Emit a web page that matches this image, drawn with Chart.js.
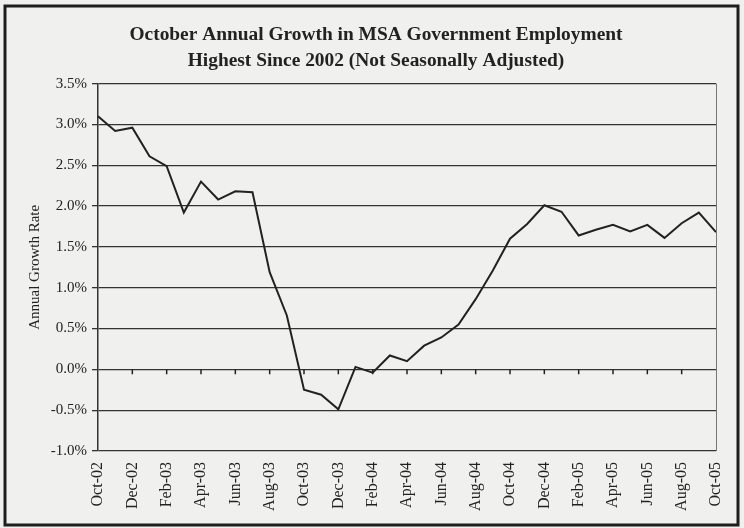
<!DOCTYPE html>
<html>
<head>
<meta charset="utf-8">
<script src="https://cdn.jsdelivr.net/npm/chart.js@4.4.1/dist/chart.umd.min.js"></script>
<style>
  html, body { margin: 0; padding: 0; background: #f0f0ee; }
  canvas { display: block; }
</style>
</head>
<body>
<canvas id="growthChart" width="744" height="528"></canvas>
<script>
// Months Oct-02 .. Oct-05
const months = [
    'Oct-02', 'Nov-02', 'Dec-02', 'Jan-03', 'Feb-03', 'Mar-03', 'Apr-03', 'May-03', 'Jun-03', 'Jul-03',
    'Aug-03', 'Sep-03', 'Oct-03', 'Nov-03', 'Dec-03', 'Jan-04', 'Feb-04', 'Mar-04', 'Apr-04', 'May-04',
    'Jun-04', 'Jul-04', 'Aug-04', 'Sep-04', 'Oct-04', 'Nov-04', 'Dec-04', 'Jan-05', 'Feb-05', 'Mar-05',
    'Apr-05', 'May-05', 'Jun-05', 'Jul-05', 'Aug-05', 'Sep-05', 'Oct-05'
];

// Annual growth rate, percent
const growthRate = [
    3.10, 2.92, 2.96, 2.61, 2.49, 1.92, 2.30, 2.08, 2.18, 2.17,
    1.19, 0.66, -0.25, -0.31, -0.49, 0.03, -0.04, 0.17, 0.10, 0.29,
    0.39, 0.55, 0.86, 1.21, 1.60, 1.78, 2.01, 1.93, 1.64, 1.71,
    1.77, 1.69, 1.77, 1.61, 1.79, 1.92, 1.68
];

const yMin = -1.0;
const yMax = 3.5;
const yStep = 0.5;

const serif = "'Liberation Serif', 'Times New Roman', serif";
const ink = '#222';

// Paper background, outer frame, right plot edge and zero-line tick marks
const framePlugin = {
    id: 'frame',
    beforeDraw(chart) {
        const ctx = chart.ctx;
        ctx.save();
        ctx.fillStyle = '#f0f0ee';
        ctx.fillRect(0, 0, chart.width, chart.height);
        ctx.strokeStyle = '#1e1e1e';
        ctx.lineWidth = 3;
        ctx.strokeRect(5, 6, 733, 519);
        ctx.restore();
    },
    afterDatasetsDraw(chart) {
        const ctx = chart.ctx;
        const area = chart.chartArea;
        const xs = chart.scales.x;
        const ys = chart.scales.y;
        const y0 = ys.getPixelForValue(0);
        ctx.save();
        ctx.strokeStyle = '#777';
        ctx.lineWidth = 1;
        ctx.beginPath();
        ctx.moveTo(area.right + 0.5, area.top);
        ctx.lineTo(area.right + 0.5, area.bottom);
        ctx.stroke();
        ctx.strokeStyle = ink;
        ctx.lineWidth = 1.5;
        ctx.beginPath();
        for (let i = 2; i < months.length - 1; i += 2) {
            const x = xs.getPixelForValue(i);
            ctx.moveTo(x, y0);
            ctx.lineTo(x, y0 + 5);
        }
        ctx.stroke();
        ctx.restore();
    }
};

const ctx = document.getElementById('growthChart').getContext('2d');
new Chart(ctx, {
    type: 'line',
    data: {
        labels: months,
        datasets: [{
            data: growthRate,
            borderColor: ink,
            borderWidth: 2,
            pointRadius: 0,
            tension: 0,
            fill: false
        }]
    },
    options: {
        responsive: false,
        animation: false,
        layout: { padding: { left: 36, right: 28, top: 0, bottom: 0 } },
        plugins: {
            legend: { display: false },
            tooltip: { enabled: false },
            title: {
                display: true,
                text: ['October Annual Growth in MSA Government Employment', 'Highest Since 2002 (Not Seasonally Adjusted)'],
                color: ink,
                font: { family: serif, size: 19.4, weight: 'bold', lineHeight: 1.33 },
                padding: { top: 22, bottom: 10 }
            }
        },
        scales: {
            x: {
                offset: false,
                grid: { display: false },
                border: { display: false },
                ticks: {
                    autoSkip: false,
                    maxRotation: 90,
                    minRotation: 90,
                    padding: 3,
                    color: ink,
                    font: { family: serif, size: 16 },
                    callback: function(value, index) { return index % 2 === 0 ? months[index] : ''; }
                },
                afterFit: function(scale) { scale.height = 77; }
            },
            y: {
                min: yMin,
                max: yMax,
                grid: { color: '#333', lineWidth: 1.3, drawTicks: true, tickLength: 6 },
                border: { display: true, color: '#333', width: 1.5 },
                ticks: {
                    stepSize: yStep,
                    padding: 5,
                    color: ink,
                    font: { family: serif, size: 15 },
                    callback: function(value) { return value.toFixed(1) + '%'; }
                },
                title: {
                    display: true,
                    text: 'Annual Growth Rate',
                    color: ink,
                    font: { family: serif, size: 15 },
                    padding: { top: -10, bottom: 0 }
                },
                afterFit: function(scale) { scale.width = 62; }
            }
        }
    },
    plugins: [framePlugin]
});
</script>
</body>
</html>
